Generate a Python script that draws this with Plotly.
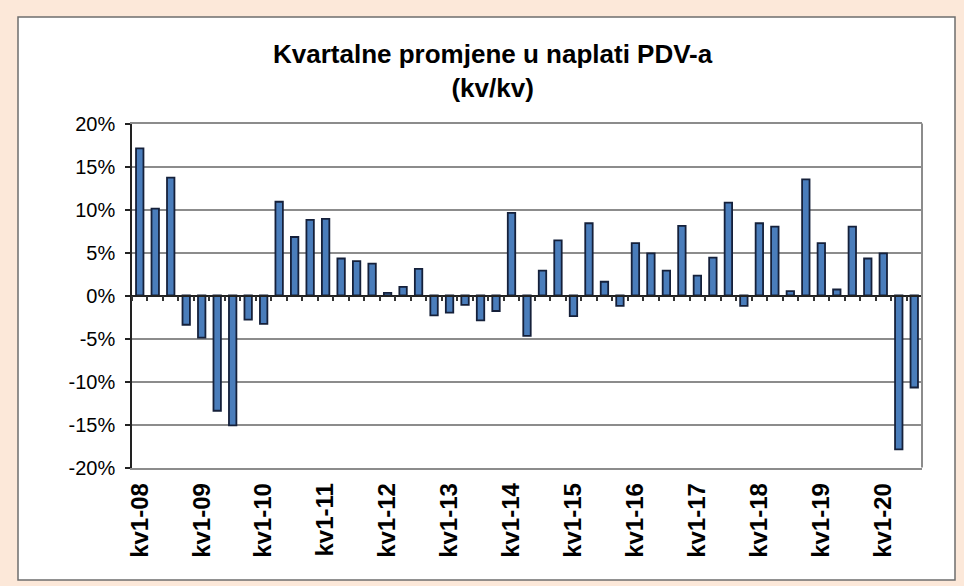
import plotly.graph_objects as go

categories = [
    "kv1-08", "kv2-08", "kv3-08", "kv4-08",
    "kv1-09", "kv2-09", "kv3-09", "kv4-09",
    "kv1-10", "kv2-10", "kv3-10", "kv4-10",
    "kv1-11", "kv2-11", "kv3-11", "kv4-11",
    "kv1-12", "kv2-12", "kv3-12", "kv4-12",
    "kv1-13", "kv2-13", "kv3-13", "kv4-13",
    "kv1-14", "kv2-14", "kv3-14", "kv4-14",
    "kv1-15", "kv2-15", "kv3-15", "kv4-15",
    "kv1-16", "kv2-16", "kv3-16", "kv4-16",
    "kv1-17", "kv2-17", "kv3-17", "kv4-17",
    "kv1-18", "kv2-18", "kv3-18", "kv4-18",
    "kv1-19", "kv2-19", "kv3-19", "kv4-19",
    "kv1-20", "kv2-20", "kv3-20",
]

values = [
    17.1, 10.1, 13.7, -3.4,
    -4.9, -13.4, -15.1, -2.8,
    -3.3, 10.9, 6.8, 8.8,
    8.9, 4.3, 4.0, 3.7,
    0.3, 1.0, 3.1, -2.3,
    -2.0, -1.1, -2.9, -1.8,
    9.6, -4.7, 2.9, 6.4,
    -2.4, 8.4, 1.6, -1.2,
    6.1, 4.9, 2.9, 8.1,
    2.3, 4.4, 10.8, -1.2,
    8.4, 8.0, 0.5, 13.5,
    6.1, 0.7, 8.0, 4.3,
    4.9, -17.9, -10.7,
]

x_tick_labels = ["kv1-08", "kv1-09", "kv1-10", "kv1-11", "kv1-12", "kv1-13", "kv1-14",
                 "kv1-15", "kv1-16", "kv1-17", "kv1-18", "kv1-19", "kv1-20"]
y_tick_vals = [-20, -15, -10, -5, 0, 5, 10, 15, 20]
y_tick_text = ["-20%", "-15%", "-10%", "-5%", "0%", "5%", "10%", "15%", "20%"]

title_text = "<b>Kvartalne promjene u naplati PDV-a</b><br><b>(kv/kv)</b>"

W, H = 964, 586
px_x = lambda p: p / W
px_y = lambda p: 1 - p / H

plot_left, plot_right = 132, 922
plot_top, plot_bottom = 123.5, 467.5
ydom = [px_y(plot_bottom), px_y(plot_top)]
zero_pos = ydom[0] + (ydom[1] - ydom[0]) * 0.5

n = len(categories)
boundaries = [i - 0.5 for i in range(n + 1)]

FONT = "Liberation Sans, Arial, sans-serif"

fig = go.Figure()
fig.add_trace(go.Bar(
    x=categories, y=values,
    marker=dict(color="#4A7DBB", line=dict(color="#15203A", width=1.8)),
    showlegend=False,
))

fig.update_layout(
    width=W, height=H,
    margin=dict(l=0, r=0, t=0, b=0),
    paper_bgcolor="#FCE8D9",
    plot_bgcolor="white",
    bargap=0.52,
    font=dict(family=FONT, color="black"),
    xaxis=dict(
        domain=[px_x(plot_left), px_x(plot_right)],
        type="category",
        range=[-0.5, n - 0.5],
        tickmode="array", tickvals=x_tick_labels, ticktext=x_tick_labels,
        tickangle=-90,
        tickfont=dict(size=24, family=FONT, weight="bold"),
        ticks="", showgrid=False, zeroline=False,
        showline=True, linecolor="#8C8C8C", linewidth=2, mirror=True,
        ticklabelstandoff=4,
        automargin=False,
    ),
    xaxis2=dict(
        overlaying="x", anchor="free", position=zero_pos,
        range=[-0.5, n - 0.5],
        tickmode="array", tickvals=boundaries,
        showticklabels=False,
        ticks="outside", ticklen=5, tickwidth=1.5, tickcolor="#333333",
        showline=True, linecolor="#222222", linewidth=1.5,
        showgrid=False, zeroline=False, automargin=False,
    ),
    yaxis=dict(
        domain=ydom,
        range=[-20, 20],
        tickmode="array", tickvals=y_tick_vals, ticktext=y_tick_text,
        tickfont=dict(size=20, family=FONT),
        ticks="outside", ticklen=5, tickwidth=1.5, tickcolor="#222222",
        showline=True, linecolor="#222222", linewidth=1.5,
        showgrid=True, gridcolor="#8C8C8C", gridwidth=1.5,
        zeroline=False,
        ticklabelstandoff=6,
        automargin=False,
    ),
    shapes=[
        dict(type="rect", xref="paper", yref="paper", layer="below",
             x0=px_x(18), x1=px_x(955), y0=px_y(580), y1=px_y(17),
             fillcolor="white", line=dict(color="#6E6E6E", width=1.5)),
        dict(type="line", xref="paper", yref="paper", layer="above",
             x0=px_x(plot_right), x1=px_x(plot_right), y0=ydom[0], y1=ydom[1],
             line=dict(color="#8C8C8C", width=2)),
    ],
    annotations=[
        dict(text=title_text, xref="paper", yref="paper",
             x=px_x(493), y=px_y(71), xanchor="center", yanchor="middle",
             showarrow=False, align="center",
             font=dict(size=26, family=FONT, color="black")),
    ],
)

fig.add_trace(go.Scatter(x=[], y=[], xaxis="x2", yaxis="y", showlegend=False, hoverinfo="skip"))

fig.write_html("out.html", config={"displayModeBar": False},
               post_script="document.body.style.margin='0';")
